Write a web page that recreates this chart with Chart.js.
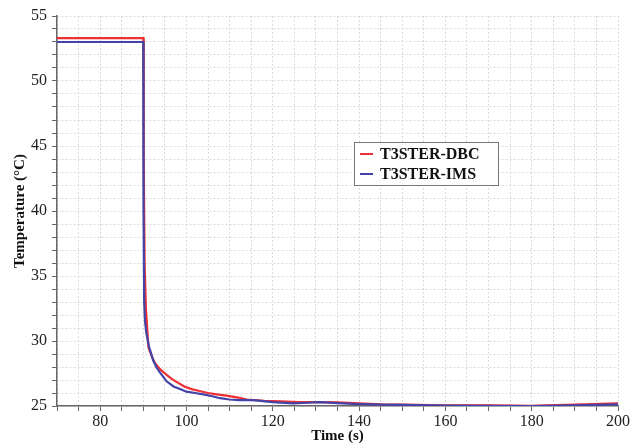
<!DOCTYPE html>
<html>
<head>
<meta charset="utf-8">
<script src="https://cdn.jsdelivr.net/npm/chart.js@4/dist/chart.umd.min.js"></script>
<style>
  html, body { margin: 0; padding: 0; background: #fff; }
  #wrap { width: 644px; height: 445px; }
</style>
</head>
<body>
<div id="wrap"><canvas id="tempChart"></canvas></div>
<script>
// values
const timeDbc = [70, 90, 90.1, 90.3, 90.6, 91.2, 92, 92.7, 94, 95.4, 96.5, 98, 99.5, 101.2, 103, 105, 107, 109.3, 112, 114, 118, 122, 126, 130, 135, 140, 145, 150, 160, 170, 180, 190, 200];
const tempDbc = [53.3, 53.3, 44, 36, 32.5, 29.5, 28.8, 28.3, 27.8, 27.4, 27.1, 26.8, 26.5, 26.3, 26.15, 26.0, 25.9, 25.8, 25.65, 25.5, 25.4, 25.35, 25.3, 25.3, 25.28, 25.2, 25.12, 25.1, 25.05, 25.05, 25.02, 25.1, 25.2];

const timeIms = [70, 90, 90.05, 90.2, 90.4, 90.7, 91.3, 92.3, 93, 93.8, 95.4, 97, 98.5, 100, 102, 103.9, 106, 107.8, 110, 112, 115.5, 120, 124.7, 128, 131, 135, 140, 145, 150, 160, 170, 180, 190, 200];
const tempIms = [53.0, 53.0, 40, 33, 31.5, 30.6, 29.6, 28.5, 28.0, 27.6, 26.9, 26.5, 26.3, 26.1, 26.0, 25.9, 25.75, 25.6, 25.5, 25.45, 25.45, 25.3, 25.2, 25.25, 25.3, 25.22, 25.15, 25.1, 25.08, 25.03, 25.02, 25.0, 25.05, 25.12];

const seriesNames = ["T3STER-DBC", "T3STER-IMS"];
const seriesColors = ["#ee3035", "#4343a8"];

function toPoints(xs, ys) {
    return xs.map((x, i) => ({ x: x, y: ys[i] }));
}

// legend box drawn inside the plot
const boxLegend = {
    id: "boxLegend",
    afterDraw(chart) {
        const ctx = chart.ctx;
        const left = 354, top = 142, w = 144, h = 43;
        ctx.save();
        ctx.fillStyle = "#fff";
        ctx.fillRect(left, top, w, h);
        ctx.strokeStyle = "#777";
        ctx.lineWidth = 1;
        ctx.strokeRect(left + 0.5, top + 0.5, w, h);
        ctx.font = "bold 16px 'Liberation Serif'";
        ctx.textBaseline = "middle";
        seriesNames.forEach((name, i) => {
            const y = top + 12 + i * 20;
            ctx.strokeStyle = seriesColors[i];
            ctx.lineWidth = 2;
            ctx.beginPath();
            ctx.moveTo(left + 6, y);
            ctx.lineTo(left + 19, y);
            ctx.stroke();
            ctx.fillStyle = "#111";
            ctx.fillText(name, left + 26, y + 1);
        });
        ctx.restore();
    }
};

const tickFont = { family: "'Liberation Serif'", size: 16 };
const titleFont = { family: "'Liberation Serif'", size: 15, weight: "bold" };

new Chart(document.getElementById("tempChart"), {
    type: "line",
    data: {
        datasets: [{
            label: seriesNames[0],
            data: toPoints(timeDbc, tempDbc),
            borderColor: seriesColors[0],
            borderWidth: 2.2,
            pointRadius: 0,
            tension: 0,
            order: 1
        }, {
            label: seriesNames[1],
            data: toPoints(timeIms, tempIms),
            borderColor: seriesColors[1],
            borderWidth: 2.2,
            pointRadius: 0,
            tension: 0,
            order: 0
        }]
    },
    options: {
        animation: false,
        responsive: true,
        maintainAspectRatio: false,
        layout: { padding: { top: 16, right: 26, left: 0, bottom: 0 } },
        plugins: {
            legend: { display: false },
            tooltip: { enabled: false }
        },
        scales: {
            x: {
                type: "linear",
                min: 70,
                max: 200,
                afterFit: (s) => { s.height = 39; },
                ticks: {
                    stepSize: 5,
                    autoSkip: false,
                    maxRotation: 0,
                    padding: 1,
                    color: "#222",
                    font: tickFont,
                    callback: (v) => (v % 20 === 0 ? v : "")
                },
                grid: {
                    color: "#dadada",
                    lineWidth: 1,
                    tickLength: 5,
                    tickColor: "#666",
                    tickBorderDash: []
                },
                border: { display: true, color: "#666", width: 1.5, dash: [2, 2] },
                title: {
                    display: true,
                    text: "Time (s)",
                    color: "#111",
                    font: titleFont,
                    padding: { top: 0, bottom: 0 }
                }
            },
            y: {
                min: 25,
                max: 55,
                afterFit: (s) => { s.width = 57; },
                ticks: {
                    stepSize: 1,
                    autoSkip: false,
                    padding: 5,
                    color: "#222",
                    font: tickFont,
                    callback: (v) => (v % 5 === 0 ? v : "")
                },
                grid: {
                    color: "#dadada",
                    lineWidth: 1,
                    tickLength: 5,
                    tickColor: "#666",
                    tickBorderDash: []
                },
                border: { display: true, color: "#666", width: 1.5, dash: [2, 2] },
                title: {
                    display: true,
                    text: "Temperature (°C)",
                    color: "#111",
                    font: titleFont,
                    padding: { top: 11, bottom: 0 }
                }
            }
        }
    },
    plugins: [boxLegend]
});
</script>
</body>
</html>
